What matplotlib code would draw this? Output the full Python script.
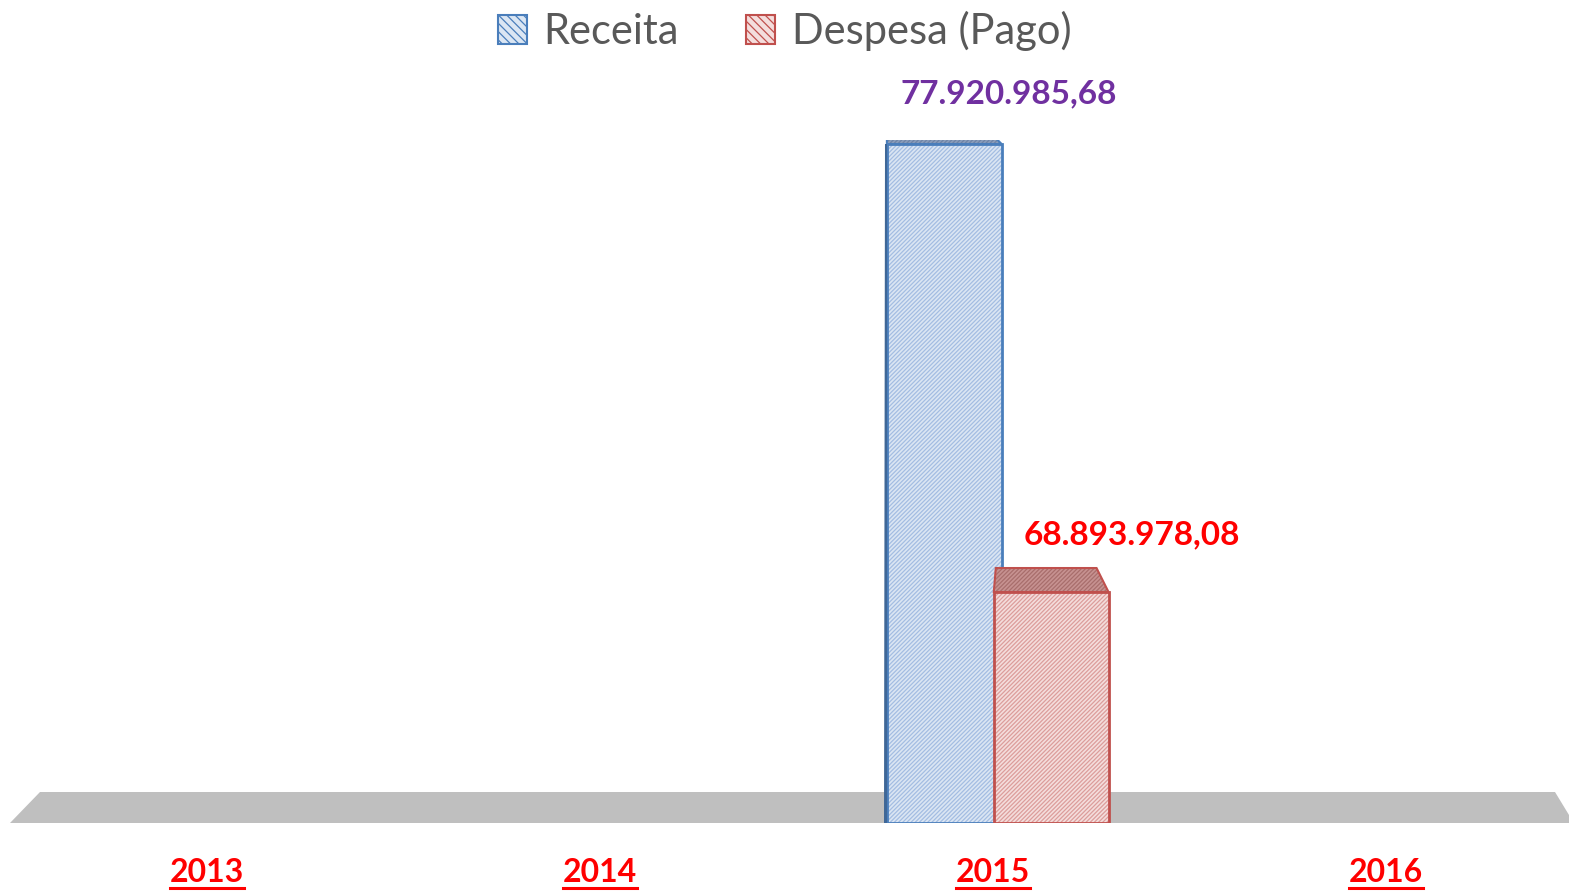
import matplotlib
matplotlib.use("Agg")
import matplotlib.pyplot as plt
from matplotlib.patches import Patch, Polygon
from matplotlib.lines import Line2D
from matplotlib.transforms import IdentityTransform
import numpy as np

plt.rcParams['font.family'] = ['Lato', 'DejaVu Sans']
plt.rcParams['hatch.linewidth'] = 0.9

categories = ["2013", "2014", "2015", "2016"]
receita = [None, None, 77920985.68, None]
despesa = [None, None, 68893978.08, None]
receita_labels = ["", "", "77.920.985,68", ""]
despesa_labels = ["", "", "68.893.978,08", ""]
series_names = ["Receita", "Despesa (Pago)"]

W, H = 1569, 892
fig = plt.figure(figsize=(W / 100, H / 100), dpi=100)
ymin, ymax = 64.24e6, 78.0e6
ax_h = (ymax - ymin) / 1e6 * 49.63
ax = fig.add_axes([10.5 / W, 69 / H, 1572 / W, ax_h / H])
ax.set_xlim(-0.5, 3.5)
ax.set_ylim(ymin, ymax)
for s in ax.spines.values():
    s.set_visible(False)
ax.set_yticks([])

# floor (decoration) in figure pixels
floor = Polygon([(10, H - 823), (40, H - 792), (1555, H - 792), (1569, H - 815), (1569, H - 823)],
                closed=True, transform=IdentityTransform(), facecolor='#bfbfbf', edgecolor='none', zorder=0)
fig.add_artist(floor)
ax.set_zorder(2)
ax.patch.set_alpha(0)

x = np.arange(len(categories))
bw = 0.292
r_off, d_off = -0.124, 0.148

styles = {
    "r": dict(face='#dbe6f3', hatch_c='#a3bde2', edge='#4a7ebb', top='#8a9dbb', top_h='#6f84a6'),
    "d": dict(face='#f4dddc', hatch_c='#dc9d9b', edge='#c0504d', top='#c79291', top_h='#a86e6c'),
}

trans = ax.transData
inv = trans.inverted()

def off(px, py, dx, dy):
    p = trans.transform((px, py))
    return tuple(inv.transform((p[0] + dx, p[1] + dy)))

def draw_series(vals, labels, xoff, st, depth, dxl, dxr, lab_off, lab_color, z):
    for i, v in enumerate(vals):
        if v is None:
            continue
        xc = x[i] + xoff
        ax.bar(xc, v - ymin, bottom=ymin, width=bw, color=st['face'], edgecolor=st['hatch_c'],
               hatch='////////', linewidth=0, zorder=z)
        ax.bar(xc, v - ymin, bottom=ymin, width=bw, fill=False, edgecolor=st['edge'],
               linewidth=2, zorder=z + 0.5)
        x0, x1 = xc - bw / 2, xc + bw / 2
        pts = [(x0, v), (x1, v), off(x1, v, dxr, depth), off(x0, v, dxl, depth)]
        ax.add_patch(Polygon(pts, closed=True, facecolor=st['top'], edgecolor=st['top_h'],
                             hatch='////////', linewidth=0, zorder=z))
        ax.add_patch(Polygon(pts, closed=True, fill=False, edgecolor=st['edge'], linewidth=1.5, zorder=z + 0.5))
        ax.annotate(labels[i], xy=(xc, v), xytext=lab_off, textcoords='offset pixels',
                    ha='center', va='bottom', fontsize=24, fontweight='bold', color=lab_color,
                    annotation_clip=False, zorder=8)

draw_series(receita, receita_labels, r_off, styles['r'], 7, 0, -7, (64, 36), '#7030a0', 3)
draw_series(despesa, despesa_labels, d_off, styles['d'], 24, 2, -12, (81, 43), '#ff0000', 5)

# left side of receita bar (dark strip)
for i, v in enumerate(receita):
    if v is None:
        continue
    x0 = x[i] + r_off - bw / 2
    side = [off(x0, ymin, -3, 0), (x0, ymin), (x0, v), off(x0, v, -2, 0)]
    ax.add_patch(Polygon(side, closed=True, facecolor='#3f6797', edgecolor='none', zorder=4))

ax.set_xticks(x)
ax.set_xticklabels(categories, fontsize=23, fontweight='bold', color='#ff0000')
ax.tick_params(axis='x', length=0, pad=25)

handles = [Patch(facecolor=styles['r']['face'], edgecolor=styles['r']['edge'], hatch='\\\\\\\\', linewidth=1.5),
           Patch(facecolor=styles['d']['face'], edgecolor=styles['d']['edge'], hatch='\\\\\\\\', linewidth=1.5)]
fig.legend(handles, series_names, loc='upper center', bbox_to_anchor=(0.5, 1.03), ncol=2,
           frameon=False, fontsize=30, labelcolor='#595959', handlelength=0.7, handleheight=0.7,
           handletextpad=0.4, columnspacing=1.6)

fig.canvas.draw()
renderer = fig.canvas.get_renderer()
for t in ax.get_xticklabels():
    bb = t.get_window_extent(renderer)
    fig.add_artist(Line2D([bb.x0, bb.x1], [bb.y0 - 1, bb.y0 - 1], transform=IdentityTransform(),
                          color='#ff0000', linewidth=2.2))

fig.savefig("out.png", dpi=100)
